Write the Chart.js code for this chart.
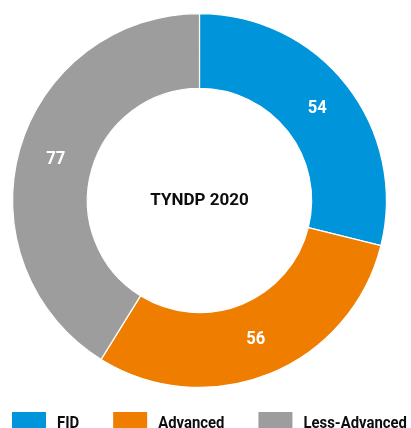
<!DOCTYPE html>
<html>
<head>
<meta charset="utf-8">
<script src="https://cdn.jsdelivr.net/npm/chart.js@4/dist/chart.umd.min.js"></script>
<style>
html,body{margin:0;padding:0;overflow:hidden;background:#fff}
#wrap{position:relative;width:411px;height:428px}
</style>
</head>
<body>
<div id="wrap"><canvas id="c"></canvas></div>
<script>
const categories = ['FID', 'Advanced', 'Less-Advanced'];
const values = [54, 56, 77];
const sliceColors = ['#0095DA', '#EF7D00', '#9C9D9C'];
const centerTitle = 'TYNDP 2020';

const FONT = "Roboto, 'Liberation Sans', Arial, sans-serif";
const NARROW = 0.875; // condensed look of the original typeface

function drawNarrow(ctx, text, x, y, align) {
  const w = ctx.measureText(text).width * NARROW;
  let left = x;
  if (align === 'center') left = x - w / 2;
  ctx.save();
  ctx.translate(left, y);
  ctx.scale(NARROW, 1);
  ctx.textAlign = 'left';
  ctx.fillText(text, 0, 0);
  ctx.restore();
  return w;
}

const sliceLabels = {
  id: 'sliceLabels',
  afterDatasetsDraw(chart) {
    const ctx = chart.ctx;
    const meta = chart.getDatasetMeta(0);
    ctx.save();
    ctx.fillStyle = '#ffffff';
    ctx.font = 'bold 19px ' + FONT;
    ctx.textBaseline = 'middle';
    meta.data.forEach((arc, i) => {
      const p = arc.tooltipPosition();
      drawNarrow(ctx, String(chart.data.datasets[0].data[i]), p.x, p.y, 'center');
    });
    ctx.restore();
  }
};

const centerText = {
  id: 'centerText',
  afterDatasetsDraw(chart) {
    const ctx = chart.ctx;
    const a = chart.chartArea;
    ctx.save();
    ctx.fillStyle = '#0d0d0d';
    ctx.font = 'bold 17px ' + FONT;
    ctx.textAlign = 'center';
    ctx.textBaseline = 'middle';
    ctx.fillText(centerTitle, (a.left + a.right) / 2, (a.top + a.bottom) / 2);
    ctx.restore();
  }
};

const bottomLegend = {
  id: 'bottomLegend',
  afterDraw(chart) {
    const ctx = chart.ctx;
    const a = chart.chartArea;
    const ds = chart.data.datasets[0];
    const boxW = 34, boxH = 16, textGap = 11, itemGap = 34;
    const top = a.bottom + 24;
    ctx.save();
    ctx.font = 'bold 17px ' + FONT;
    ctx.textBaseline = 'alphabetic';
    let x = a.left;
    chart.data.labels.forEach((lab, i) => {
      ctx.fillStyle = ds.backgroundColor[i];
      ctx.fillRect(x, top, boxW, boxH);
      ctx.fillStyle = '#0d0d0d';
      const tx = x + boxW + textGap;
      const w = drawNarrow(ctx, lab, tx, top + 15.5, 'left');
      x = tx + w + itemGap;
    });
    ctx.restore();
  }
};

new Chart(document.getElementById('c'), {
  type: 'doughnut',
  data: {
    labels: categories,
    datasets: [{
      data: values,
      backgroundColor: sliceColors,
      borderColor: '#ffffff',
      borderWidth: 1.2,
      hoverOffset: 0
    }]
  },
  options: {
    responsive: true,
    maintainAspectRatio: false,
    animation: false,
    cutout: '60%',
    layout: { padding: { top: 13, left: 12, right: 24, bottom: 40 } },
    plugins: {
      legend: { display: false },
      tooltip: { enabled: false }
    }
  },
  plugins: [sliceLabels, centerText, bottomLegend]
});
</script>
</body>
</html>
